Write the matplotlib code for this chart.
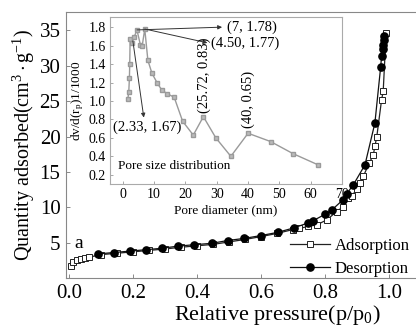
import matplotlib
matplotlib.use("Agg")
import matplotlib.pyplot as plt

plt.rcParams['font.family'] = ['Liberation Serif', 'DejaVu Serif']
plt.rcParams['mathtext.fontset'] = 'custom'
plt.rcParams['mathtext.rm'] = 'Liberation Serif'
plt.rcParams['mathtext.it'] = 'Liberation Serif:italic'

# ---------------- data ----------------
ads_p = [0.005, 0.012, 0.025, 0.037, 0.05, 0.063, 0.10, 0.15, 0.20, 0.25, 0.30, 0.35,
         0.40, 0.45, 0.50, 0.55, 0.60, 0.65, 0.70, 0.72, 0.748, 0.774, 0.805, 0.837,
         0.857, 0.873, 0.885, 0.899, 0.91, 0.92, 0.938, 0.951, 0.956, 0.962, 0.977,
         0.982, 0.991]
ads_q = [1.7, 2.2, 2.6, 2.65, 2.8, 2.95, 3.3, 3.5, 3.7, 3.9, 4.1, 4.35,
         4.55, 4.75, 5.1, 5.45, 5.85, 6.3, 6.85, 7.0, 7.3, 7.5, 8.2, 9.4,
         10.1, 11.3, 11.6, 12.6, 13.4, 14.4, 16.2, 17.4, 18.6, 20.0, 25.2,
         26.4, 34.6]

des_p = [0.09, 0.14, 0.19, 0.24, 0.29, 0.34, 0.39, 0.446, 0.496, 0.548, 0.60, 0.652,
         0.704, 0.748, 0.763, 0.80, 0.821, 0.855, 0.868, 0.889, 0.925, 0.956, 0.974,
         0.977, 0.980, 0.982, 0.983, 0.984]
des_q = [3.4, 3.6, 3.8, 4.0, 4.2, 4.5, 4.7, 4.9, 5.3, 5.6, 6.0, 6.45,
         7.1, 7.8, 8.1, 9.0, 9.6, 11.0, 11.9, 13.2, 16.0, 21.9, 29.8,
         31.4, 32.3, 33.0, 33.7, 34.2]

pore_d = [1.6, 1.9, 2.1, 2.2, 2.33, 2.9, 3.6, 4.5, 5.6, 6.2, 7.0, 8.0, 9.3, 10.9,
          12.4, 14.1, 16.4, 19.1, 22.5, 25.72, 29.7, 34.5, 40, 47.2, 54.3, 62.2]
pore_v = [1.02, 1.10, 1.25, 1.40, 1.67, 1.63, 1.69, 1.77, 1.61, 1.60, 1.78, 1.44,
          1.30, 1.20, 1.12, 1.08, 1.04, 0.78, 0.63, 0.83, 0.60, 0.40, 0.65, 0.56,
          0.43, 0.31]

x_ticks = [0.0, 0.2, 0.4, 0.6, 0.8, 1.0]
y_ticks = [5, 10, 15, 20, 25, 30, 35]
inset_xticks = [0, 10, 20, 30, 40, 50, 60, 70]
inset_yticks = [0.2, 0.4, 0.6, 0.8, 1.0, 1.2, 1.4, 1.6, 1.8]

W, H = 416, 329
fig = plt.figure(figsize=(W / 100, H / 100), dpi=100)

# main axes (right spine extends beyond the picture)
ax = fig.add_axes([66 / W, (H - 278) / H, 354 / W, 266 / H])
ax.plot(ads_p, ads_q, '-', color='#222222', lw=0.9, marker='s', ms=4.5,
        mfc='white', mec='#222222', mew=0.7, label='Adsorption', zorder=3)
ax.plot(des_p, des_q, '-', color='#111111', lw=0.9, marker='o', ms=5.2,
        mfc='black', mec='black', label='Desorption', zorder=4)
ax.set_xlim(-0.0094, 1.097)
ax.set_ylim(0, 37.6)
ax.set_xticks(x_ticks)
ax.set_xticklabels([f'{t:.1f}' for t in x_ticks])
ax.set_yticks(y_ticks)
ax.tick_params(direction='in', labelsize=15, length=3, width=0.6, color='#777777', pad=4)
for s in ax.spines.values():
    s.set_color('#888888')
    s.set_linewidth(0.8)
fig.text(277 / W, 1 - 315 / H, r'Relative pressure(p/p$_0$)', fontsize=16,
         ha='center', va='center')
ax.set_ylabel(r'Quantity adsorbed(cm$^{3}\cdot$g$^{-1}$)', fontsize=14.5, labelpad=2)
ax.text(0.03, 4.9, 'a', fontsize=14, ha='center', va='center')
leg = ax.legend(loc='lower right', bbox_to_anchor=(1.0, -0.035), frameon=False,
                fontsize=12, handlelength=2.4, handletextpad=0.3, labelspacing=0.45,
                borderaxespad=0.2)

# inset
ins = fig.add_axes([110 / W, (H - 184) / H, 232 / W, 167 / H])
ins.plot(pore_d, pore_v, '-', color='#9a9a9a', lw=1.0, marker='s', ms=2.5,
         mfc='#bbbbbb', mec='#9a9a9a')
ins.set_xlim(-4.1, 69.5)
ins.set_ylim(0.1, 1.91)
ins.set_xticks(inset_xticks)
ins.set_yticks(inset_yticks)
ins.set_yticklabels([f'{t:.1f}' for t in inset_yticks])
ins.tick_params(direction='in', labelsize=10, length=2.5, width=0.6, color='#999999', pad=3)
for s in ins.spines.values():
    s.set_color('#aaaaaa')
    s.set_linewidth(0.8)
ins.set_xlabel('Pore diameter (nm)', fontsize=9.5, labelpad=2)
ins.set_ylabel(r'dv/d(r$_\mathrm{p}$)1/1000', fontsize=9.5, labelpad=2)

arrow_kw = dict(arrowstyle='-|>', color='#333333', lw=0.7, mutation_scale=6,
                shrinkA=0, shrinkB=0)
ins.annotate('', xy=(31.7, 1.80), xytext=(4.5, 1.77), arrowprops=arrow_kw)
ins.text(33.2, 1.80, '(7, 1.78)', fontsize=10.5, ha='left', va='center')
ins.annotate('', xy=(27.0, 1.63), xytext=(7.0, 1.78), arrowprops=arrow_kw)
ins.text(28.2, 1.62, '(4.50, 1.77)', fontsize=10.5, ha='left', va='center')
ins.annotate('', xy=(6.7, 0.82), xytext=(3.2, 1.65), arrowprops=arrow_kw)
ins.text(7.9, 0.71, '(2.33, 1.67)', fontsize=10.5, ha='center', va='center')
ins.text(26.0, 0.87, '(25.72, 0.83)', fontsize=10.5, ha='center', va='bottom', rotation=90)
ins.text(40.0, 0.71, '(40, 0.65)', fontsize=10.5, ha='center', va='bottom', rotation=90)
ins.text(-1.6, 0.29, 'Pore size distribution', fontsize=9.5, ha='left', va='center')

fig.savefig('out.png', dpi=100)
